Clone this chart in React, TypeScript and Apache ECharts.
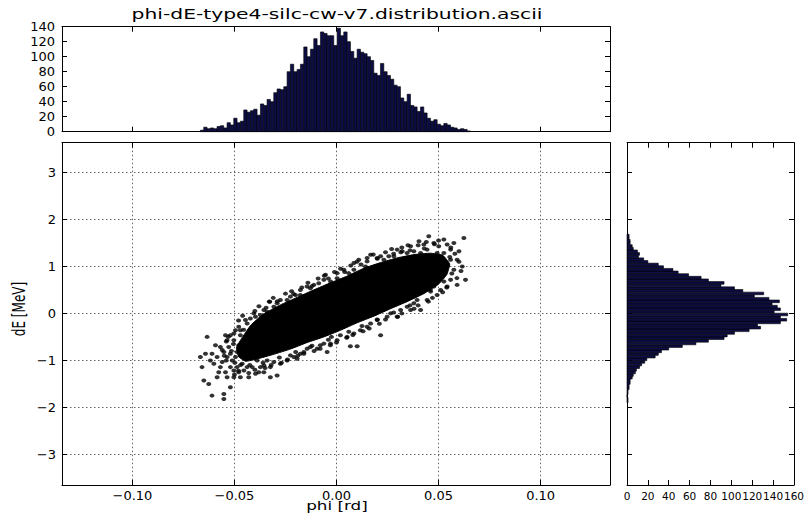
import React, { useEffect, useRef } from 'react';
import * as echarts from 'echarts';

const TITLE = 'phi-dE-type4-silc-cw-v7.distribution.ascii';
const X_LABEL = 'phi [rd]';
const Y_LABEL = 'dE [MeV]';

const PHI_MIN = -0.1345;
const PHI_MAX = 0.134;
const DE_MIN = -3.65;
const DE_MAX = 3.63;
const PHI_COUNT_MAX = 140;
const DE_COUNT_MAX = 160;

// phi histogram (top panel)
const PHI_BIN_START = -0.0667;
const PHI_BIN_WIDTH = 0.001634;
const PHI_COUNTS = [
  2, 6, 4, 5, 4, 7, 8, 5, 12, 9, 18, 12, 14, 29, 26, 28, 30, 22, 37, 35,
  43, 40, 52, 57, 56, 60, 80,
  90, 80, 83, 90, 113, 100, 110, 124, 115, 133, 131, 128, 128, 115, 138, 128, 133, 120, 107,
  98, 110, 106, 104, 100, 95, 78, 75, 91, 80,
  75, 70, 62, 60, 45, 40, 50, 35, 33, 27, 33, 25, 18, 14, 16, 10, 8, 11, 9, 6,
  5, 3, 4, 3, 1,
];

// dE histogram (right panel), from low dE upwards
const DE_BIN_START = -1.9;
const DE_BIN_WIDTH = 0.056;
const DE_COUNTS = [
  1, 1, 0, 1, 1, 2, 2, 3, 3, 5, 6, 8, 9, 12, 14, 17, 19, 27, 30, 33,
  40, 53, 66, 78, 93, 96, 103, 117, 128, 125, 147, 153, 147, 154, 141, 147, 144, 139, 146, 136,
  122, 131, 111, 103, 90, 93, 78, 71, 59, 49, 44, 35, 30, 20, 16, 11, 12, 10, 6, 5,
  3, 3, 2, 2,
];

// dense (solid) core of the phi-dE scatter cloud, outline [phi, dE]
const CORE_OUTLINE = [
  [-0.046, -0.5], [-0.042, -0.25], [-0.036, -0.02], [-0.0275, 0.18],
  [-0.0193, 0.34], [-0.0111, 0.5], [-0.003, 0.65], [0.005, 0.79],
  [0.0134, 0.96], [0.0216, 1.08], [0.0297, 1.18], [0.0379, 1.25],
  [0.046, 1.28], [0.052, 1.24], [0.0555, 1.05], [0.054, 0.82],
  [0.05, 0.62], [0.0428, 0.42], [0.0346, 0.25], [0.0265, 0.1],
  [0.0183, -0.06], [0.0101, -0.2], [0.0019, -0.36], [-0.0062, -0.5],
  [-0.0144, -0.62], [-0.0226, -0.76], [-0.0307, -0.87], [-0.0389, -0.97],
  [-0.0445, -1.02], [-0.048, -0.92], [-0.049, -0.72],
];

// individual scatter points around the core [phi, dE]
const SCATTER_POINTS = [
  [-0.0634, -0.5], [-0.0593, -0.679], [-0.0544, -0.464], [-0.052, -0.464], [-0.0495, -0.357],
  [-0.0479, -0.286], [-0.0446, -0.143], [-0.0422, -0.108], [-0.0397, -0.072], [-0.0373, -0.036],
  [-0.034, 0.035], [-0.0327, 0.249], [-0.0291, 0.214], [-0.0275, 0.285], [-0.0242, 0.285],
  [-0.0201, 0.392], [-0.0177, 0.392], [-0.0144, 0.57], [-0.0111, 0.606], [-0.0087, 0.642],
  [-0.0054, 0.82], [-0.0029, 0.678], [0.0003, 0.749], [0.0036, 0.927], [0.006, 0.856],
  [0.0085, 0.927], [0.0109, 1.141], [0.0142, 0.999], [0.0167, 1.249], [0.0199, 1.177],
  [0.0232, 1.141], [0.0256, 1.213], [0.0281, 1.213], [0.0297, 1.356], [0.0322, 1.32],
  [0.0363, 1.427], [0.0379, 1.32], [0.0404, 1.534], [0.0428, 1.463], [0.0452, 1.641],
  [0.0477, 1.498], [0.0501, 1.427], [0.0526, 1.57], [0.0542, 1.463], [0.0559, 1.356],
  [0.0575, 1.498], [0.06, 1.32], [0.0624, 1.605], [0.0616, 0.999], [0.0632, 0.713],
  [0.0591, 0.606], [0.0559, 0.713], [0.0542, 0.57], [0.051, 0.499], [0.0493, 0.392],
  [0.0461, 0.463], [0.0412, 0.071], [0.0379, 0.214], [0.0346, 0.142], [0.0314, 0.071],
  [0.0265, 0.0], [0.0216, -0.464], [0.0199, -0.143], [0.015, -0.286], [0.0101, -0.7],
  [0.0068, -0.7], [0.0052, -0.5], [0.0003, -0.572], [-0.0046, -0.821], [-0.0062, -0.643],
  [-0.0095, -0.75], [-0.0144, -0.75], [-0.0177, -0.857], [-0.0209, -0.928], [-0.0242, -1.0],
  [-0.0275, -1.071], [-0.0291, -1.321], [-0.0324, -1.357], [-0.0356, -1.25], [-0.0373, -1.143],
  [-0.0397, -1.285], [-0.0438, -1.143], [-0.0471, -1.357], [-0.0503, -1.357], [-0.052, -1.571],
  [-0.0552, -1.714], [-0.0552, -1.821], [-0.061, -1.749], [-0.0626, -1.5], [-0.065, -1.428],
  [-0.0659, -1.143], [-0.0667, -0.928], [-0.0642, -0.857], [-0.061, -0.857], [-0.0601, -1.071],
  [-0.0569, -1.143], [-0.0536, -0.928], [-0.0511, -1.0], [-0.0487, -1.143], [-0.0585, -1.357],
  [-0.0569, -0.714], [-0.0528, -0.714], [-0.0503, -0.572], [-0.0462, -0.607], [-0.043, -1.357],
  [-0.0389, -1.0],
  [-0.0618, -1.0], [-0.0585, -0.928], [-0.056, -1.036], [-0.0544, -1.25], [-0.052, -1.143],
  [-0.0503, -1.214], [-0.0479, -1.25], [-0.0462, -1.071], [-0.0454, -1.214], [-0.0552, -0.821],
  [-0.052, -0.857], [-0.0487, -0.821], [-0.0479, -0.679], [-0.0495, -0.928], [-0.0471, -0.464],
  [-0.0438, -0.536], [-0.0577, -1.25], [-0.0536, -1.357], [-0.0413, -1.143], [-0.0356, -1.107],
  [-0.0324, -1.143], [-0.0307, -1.036], [-0.034, -1.0], [-0.0381, -1.25],
  [-0.0226, -0.893], [-0.0193, -0.964], [-0.016, -0.821], [-0.0128, -0.714], [-0.0079, -0.679],
  [-0.0029, -0.643], [0.0019, -0.464], [0.0085, -0.429], [0.0117, -0.357], [0.0167, -0.215],
  [0.0248, -0.072], [0.0297, -0.072], [0.0363, 0.071], [0.0395, 0.285], [0.0444, 0.285],
  [0.0477, 0.57], [0.0526, 0.678], [0.0575, 0.927], [0.0591, 1.141], [0.0559, 1.141],
  [0.0526, 1.284], [0.0493, 1.284], [0.0444, 1.356], [0.0412, 1.284], [0.0346, 1.284],
  [0.0216, 1.213], [0.015, 1.106], [0.0085, 1.07], [0.0003, 0.856], [-0.0062, 0.713],
  [-0.0128, 0.535], [-0.0177, 0.499], [-0.0226, 0.356], [-0.0307, 0.142], [-0.0356, 0.071],
  [-0.0405, 0.0], [-0.0438, -0.215], [-0.0471, -0.357], [-0.0503, -0.429], [-0.0536, -0.572],
  [-0.048, -0.15], [-0.046, -0.05], [-0.04, 0.05], [-0.038, 0.15], [-0.033, 0.25],
  [-0.031, 0.33], [-0.025, 0.42], [-0.022, 0.47], [-0.017, 0.55], [-0.014, 0.65],
  [-0.009, 0.74], [-0.006, 0.8], [-0.001, 0.88], [0.002, 0.95], [0.007, 1.02],
  [0.01, 1.1], [0.015, 1.18], [0.018, 1.25], [0.024, 1.3], [0.027, 1.37],
  [0.032, 1.4], [0.035, 1.45], [0.04, 1.45], [0.044, 1.52], [0.048, 1.47],
  [0.05, 1.55], [0.056, 1.4], [0.058, 1.27], [0.06, 1.1], [0.061, 0.9],
  [0.059, 0.75], [0.054, 0.55], [0.052, 0.45], [0.047, 0.33], [0.045, 0.25],
  [0.04, 0.17], [0.038, 0.1], [0.032, 0.0], [0.03, -0.07], [0.024, -0.13],
  [0.021, -0.22], [0.016, -0.32], [0.013, -0.38], [0.008, -0.46], [0.005, -0.52],
  [0.0, -0.62], [-0.003, -0.68], [-0.008, -0.75], [-0.011, -0.8], [-0.016, -0.86],
  [-0.019, -0.9], [-0.024, -0.98], [-0.027, -1.05], [-0.032, -1.1], [-0.035, -1.16],
  [-0.04, -1.2], [-0.043, -1.27], [-0.048, -1.22], [-0.05, -1.3], [-0.054, -1.0],
  [-0.055, -0.9], [-0.054, -0.6], [-0.053, -0.5], [-0.056, -0.78],
  [-0.0505, -0.65], [-0.0515, -0.8], [-0.0498, -1.05], [-0.047, -1.1], [-0.0425, -1.1],
  [-0.0455, -0.35], [-0.0418, -0.38], [-0.0395, -0.22], [0.0315, 1.3], [0.043, 1.38],
  [0.0555, 1.2], [0.0565, 0.85], [0.046, 0.5], [0.0125, -0.27], [-0.0025, -0.5],
  [-0.0345, 0.12], [-0.029, 0.26], [-0.021, 0.41], [-0.012, 0.58], [-0.004, 0.74],
  [0.004, 0.88], [0.012, 1.04], [0.02, 1.16], [0.028, 1.27], [0.036, 1.34],
  [0.036, 0.17], [0.028, 0.02], [0.02, -0.13], [0.006, -0.39], [-0.004, -0.56],
  [-0.012, -0.69], [-0.02, -0.82], [-0.028, -0.94], [-0.036, -1.05],
];

const FONT = 'DejaVu Sans';
const BAR_FILL = '#0d0d45';

const phiHistData = PHI_COUNTS.map((c, i) => [
  PHI_BIN_START + i * PHI_BIN_WIDTH,
  PHI_BIN_START + (i + 1) * PHI_BIN_WIDTH,
  c,
]);
const deHistData = DE_COUNTS.map((c, i) => [
  DE_BIN_START + i * DE_BIN_WIDTH,
  DE_BIN_START + (i + 1) * DE_BIN_WIDTH,
  c,
]);

const fmt = (d: number) => (v: number) => {
  const r = Number(v.toFixed(d));
  return (r < 0 ? '\u2212' : '') + Math.abs(r).toFixed(d);
};

const axisLine = { show: true, onZero: false, lineStyle: { color: '#000', width: 1 } };
const tick = { show: true, inside: true, length: 5, lineStyle: { color: '#000', width: 1 } };
const noLabel = { show: false };
const noSplit = { show: false };
const dotted = { show: true, lineStyle: { color: '#666', width: 1, type: [1.5, 2.5] } };
const labelStyle = { fontFamily: FONT, fontSize: 13, color: '#000' };

export default function App() {
  const ref = useRef<HTMLDivElement>(null);
  useEffect(() => {
    if (!ref.current) return;
    const chart = echarts.init(ref.current, null, { renderer: 'svg' });
    const option: any = {
      animation: false,
      backgroundColor: '#fff',
      grid: [
        { left: 62, top: 26.7, width: 548, height: 105 },
        { left: 62, top: 142.7, width: 548, height: 342.3 },
        { left: 627, top: 142.7, width: 168, height: 342.3 },
      ],
      xAxis: [
        { gridIndex: 0, type: 'value', position: 'bottom', min: PHI_MIN, max: PHI_MAX, axisLine, axisTick: tick, axisLabel: noLabel, splitLine: noSplit },
        { gridIndex: 0, type: 'value', position: 'top', min: PHI_MIN, max: PHI_MAX, axisLine, axisTick: tick, axisLabel: noLabel, splitLine: noSplit },
        {
          gridIndex: 1, type: 'value', position: 'bottom', min: PHI_MIN, max: PHI_MAX, axisLine, axisTick: tick,
          axisLabel: { ...labelStyle, formatter: fmt(2), showMinLabel: false, showMaxLabel: false, margin: 4 },
          splitLine: dotted,
        },
        { gridIndex: 1, type: 'value', position: 'top', min: PHI_MIN, max: PHI_MAX, axisLine, axisTick: tick, axisLabel: noLabel, splitLine: noSplit },
        {
          gridIndex: 2, type: 'value', position: 'bottom', min: 0, max: DE_COUNT_MAX, interval: 20, axisLine, axisTick: tick,
          axisLabel: { ...labelStyle, fontSize: 10.5, margin: 5, hideOverlap: false, showMinLabel: true, showMaxLabel: true },
          splitLine: noSplit,
        },
        { gridIndex: 2, type: 'value', position: 'top', min: 0, max: DE_COUNT_MAX, interval: 20, axisLine, axisTick: tick, axisLabel: noLabel, splitLine: noSplit },
      ],
      yAxis: [
        {
          gridIndex: 0, type: 'value', position: 'left', min: 0, max: PHI_COUNT_MAX, interval: 20, axisLine, axisTick: tick,
          axisLabel: { ...labelStyle, margin: 7 }, splitLine: noSplit,
        },
        { gridIndex: 0, type: 'value', position: 'right', min: 0, max: PHI_COUNT_MAX, interval: 20, axisLine, axisTick: tick, axisLabel: noLabel, splitLine: noSplit },
        {
          gridIndex: 1, type: 'value', position: 'left', min: DE_MIN, max: DE_MAX, axisLine, axisTick: tick,
          axisLabel: { ...labelStyle, formatter: fmt(0), showMinLabel: false, showMaxLabel: false, margin: 6 },
          splitLine: dotted,
        },
        { gridIndex: 1, type: 'value', position: 'right', min: DE_MIN, max: DE_MAX, axisLine, axisTick: tick, axisLabel: noLabel, splitLine: noSplit },
        { gridIndex: 2, type: 'value', position: 'left', min: DE_MIN, max: DE_MAX, axisLine, axisTick: tick, axisLabel: noLabel, splitLine: noSplit },
        { gridIndex: 2, type: 'value', position: 'right', min: DE_MIN, max: DE_MAX, axisLine, axisTick: tick, axisLabel: noLabel, splitLine: noSplit },
      ],
      series: [
        {
          type: 'custom', xAxisIndex: 0, yAxisIndex: 0, silent: true,
          data: phiHistData, encode: { x: [0, 1], y: 2 },
          renderItem: (_p: any, api: any) => {
            const a = api.coord([api.value(0), api.value(2)]);
            const b = api.coord([api.value(1), 0]);
            return {
              type: 'rect',
              shape: { x: a[0], y: a[1], width: b[0] - a[0], height: b[1] - a[1] },
              style: { fill: BAR_FILL, stroke: '#000', lineWidth: 0.6 },
            };
          },
        },
        {
          type: 'custom', xAxisIndex: 4, yAxisIndex: 4, silent: true,
          data: deHistData, encode: { x: 2, y: [0, 1] },
          renderItem: (_p: any, api: any) => {
            const a = api.coord([api.value(2), api.value(1)]);
            const b = api.coord([0, api.value(0)]);
            return {
              type: 'rect',
              shape: { x: b[0], y: a[1], width: a[0] - b[0], height: b[1] - a[1] },
              style: { fill: BAR_FILL, stroke: '#000', lineWidth: 0.6 },
            };
          },
        },
        {
          type: 'custom', xAxisIndex: 2, yAxisIndex: 2, silent: true,
          data: [[0, 0]], encode: { x: 0, y: 1 },
          renderItem: (_p: any, api: any) => ({
            type: 'polygon',
            shape: { points: CORE_OUTLINE.map((p) => api.coord(p)), smooth: 0.1 },
            style: { fill: '#000', stroke: '#000', lineWidth: 1 },
          }),
        },
        {
          type: 'scatter', xAxisIndex: 2, yAxisIndex: 2, silent: true,
          data: SCATTER_POINTS, symbolSize: [5, 4],
          itemStyle: { color: '#000' },
        },
      ],
      graphic: [
        {
          type: 'text', x: 337, y: 14, scaleX: 1.45,
          style: { text: TITLE, fontFamily: FONT, fontSize: 14, fill: '#000', align: 'center', verticalAlign: 'middle' },
        },
        {
          type: 'text', x: 337, y: 505, scaleX: 1.4,
          style: { text: X_LABEL, fontFamily: FONT, fontSize: 12, fill: '#000', align: 'center', verticalAlign: 'middle' },
        },
        {
          type: 'text', x: 19, y: 309, rotation: Math.PI / 2, scaleY: 1.4,
          style: { text: Y_LABEL, fontFamily: FONT, fontSize: 12, fill: '#000', align: 'center', verticalAlign: 'middle' },
        },
      ],
    };
    chart.setOption(option);
    return () => chart.dispose();
  }, []);
  return (
    <div
      ref={ref}
      style={{ position: 'fixed', left: 0, top: 0, width: 807, height: 513, background: '#fff' }}
    />
  );
}
